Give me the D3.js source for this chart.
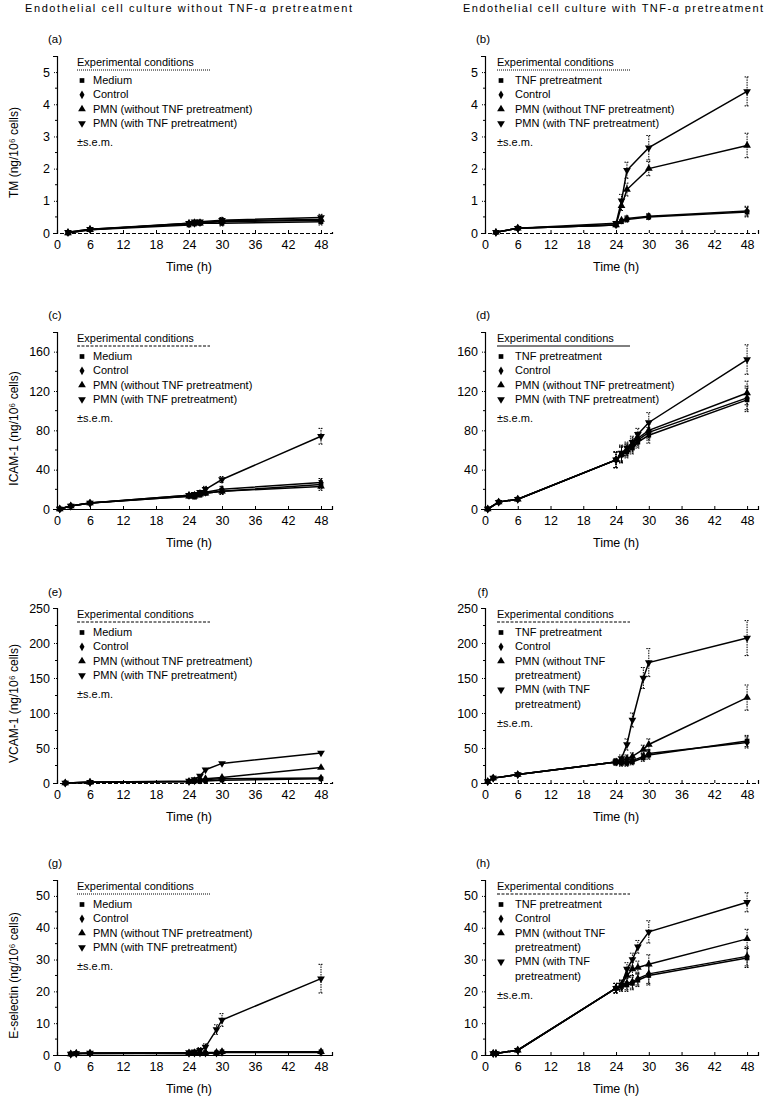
<!DOCTYPE html>
<html><head><meta charset="utf-8">
<script src="https://cdn.jsdelivr.net/npm/d3@7"></script>
<style>body{margin:0;background:#fff}svg{display:block}text{font-family:"Liberation Sans",Arial,sans-serif;fill:#000}</style>
</head><body><svg id="c" width="767" height="1097"></svg>
<script>
// ---------- data ----------
const headers = ["Endothelial cell culture without TNF-\u03b1 pretreatment", "Endothelial cell culture with TNF-\u03b1 pretreatment"];
const leftLegend = ["Medium", "Control", "PMN (without TNF pretreatment)", "PMN (with TNF pretreatment)"];
const rightLegend = ["TNF pretreatment", "Control", "PMN (without TNF pretreatment)", "PMN (with TNF pretreatment)"];
const rightLegendWrapped = ["TNF pretreatment", "Control", ["PMN (without TNF", "pretreatment)"], ["PMN (with TNF", "pretreatment)"]];
const timeTicks = [0, 6, 12, 18, 24, 30, 36, 42, 48];

// (a) TM without TNF
const aTime = [2, 6, 24, 25, 26, 30, 48];
const aMedium = [0.00, 0.10, 0.25, 0.28, 0.30, 0.30, 0.35];
const aControl = [0.02, 0.12, 0.28, 0.30, 0.32, 0.35, 0.40];
const aPmnWithout = [0.00, 0.10, 0.30, 0.32, 0.30, 0.38, 0.42];
const aPmnWith = [0.02, 0.12, 0.30, 0.35, 0.35, 0.40, 0.48];
const aSem = [0.02, 0.03, 0.06, 0.06, 0.06, 0.08, 0.10];
// (b) TM with TNF
const bTime = [2, 6, 24, 25, 26, 30, 48];
const bTnf = [0.02, 0.15, 0.25, 0.35, 0.42, 0.50, 0.65];
const bControl = [0.02, 0.15, 0.25, 0.40, 0.45, 0.52, 0.68];
const bPmnWithout = [0.02, 0.15, 0.25, 0.85, 1.35, 2.00, 2.72];
const bPmnWith = [0.02, 0.15, 0.30, 1.00, 1.95, 2.65, 4.40];
const bTnfSem = [0.02, 0.03, 0.04, 0.06, 0.08, 0.08, 0.15];
const bPmnWithoutSem = [0.02, 0.03, 0.05, 0.15, 0.20, 0.22, 0.38];
const bPmnWithSem = [0.02, 0.03, 0.05, 0.20, 0.25, 0.38, 0.45];
// (c) ICAM-1 without TNF
const cTime = [0.5, 2.5, 6, 24, 25, 26, 27, 30, 48];
const cMedium = [0, 3, 6, 13, 12, 14, 16, 18, 25];
const cControl = [0, 3, 6, 14, 14, 16, 17, 20, 27];
const cPmnWithout = [0, 3, 6, 13, 13, 15, 16, 18, 23];
const cPmnWith = [0, 3, 6, 14, 15, 17, 20, 30, 74];
const cSem = [0, 1, 1, 2, 2, 2, 2, 3, 4];
const cPmnWithSem = [0, 1, 1, 2, 2, 2, 3, 3, 8];
// (d) ICAM-1 with TNF
const dTime = [0.5, 2.5, 6, 24, 25, 26, 27, 28, 30, 48];
const dTnf = [0, 7, 10, 50, 55, 58, 62, 68, 75, 111];
const dControl = [0, 7, 10, 50, 55, 60, 64, 70, 78, 113];
const dPmnWithout = [0, 7, 10, 50, 56, 60, 66, 72, 80, 118];
const dPmnWith = [0, 7, 10, 50, 57, 62, 68, 76, 88, 152];
const dSem = [0, 1, 1, 8, 8, 6, 6, 6, 8, 12];
const dPmnWithSem = [0, 1, 1, 8, 8, 6, 6, 6, 10, 15];
// (e) VCAM-1 without TNF
const eTime = [1.5, 6, 24, 25, 26, 27, 30, 48];
const eMedium = [0, 1, 2, 3, 3, 3, 4, 6];
const eControl = [0, 1, 2, 3, 4, 5, 6, 7];
const ePmnWithout = [0, 1, 2, 3, 5, 6, 8, 22];
const ePmnWith = [0, 1, 3, 5, 10, 19, 28, 43];
const eSem = [0.5, 1, 1, 1, 2, 2, 2, 3];
// (f) VCAM-1 with TNF
const fTime = [0.5, 1.5, 6, 24, 25, 26, 27, 29, 30, 48];
const fTnf = [2, 7, 12, 30, 28, 28, 30, 36, 40, 60];
const fControl = [2, 7, 12, 30, 30, 30, 32, 38, 42, 58];
const fPmnWithout = [2, 7, 12, 30, 32, 35, 38, 48, 55, 122];
const fPmnWith = [2, 7, 12, 30, 35, 55, 90, 150, 172, 207];
const fTnfSem = [1, 2, 2, 4, 4, 4, 4, 5, 6, 8];
const fPmnWithoutSem = [1, 2, 2, 4, 4, 5, 5, 6, 8, 18];
const fPmnWithSem = [1, 2, 2, 4, 5, 8, 10, 15, 20, 25];
// (g) E-selectin without TNF
const gTime = [2.5, 3.5, 6, 24, 25, 26, 27, 29, 30, 48];
const gMedium = [0.3, 0.5, 0.5, 0.5, 0.5, 0.5, 0.5, 0.7, 1.0, 1.0];
const gControl = [0.3, 0.5, 0.6, 0.5, 0.6, 0.6, 0.6, 0.6, 0.8, 0.8];
const gPmnWithout = [0.3, 0.5, 0.5, 0.6, 0.7, 0.8, 0.8, 0.8, 1.0, 1.0];
const gPmnWith = [0.3, 0.5, 0.6, 0.8, 1.0, 1.5, 2.5, 8.0, 11.0, 24.0];
const gSem = [0.1, 0.1, 0.1, 0.2, 0.2, 0.2, 0.2, 0.3, 0.4, 0.4];
const gPmnWithSem = [0.2, 0.2, 0.2, 0.3, 0.5, 0.8, 1.0, 1.5, 2.0, 4.5];
// (h) E-selectin with TNF
const hTime = [1.5, 2, 6, 24, 25, 26, 27, 28, 30, 48];
const hTnf = [0.5, 0.5, 1.5, 21, 21.5, 22, 22.5, 23.5, 25, 30.5];
const hControl = [0.5, 0.5, 1.5, 21, 22, 22.5, 23, 24, 25.5, 31];
const hPmnWithout = [0.5, 0.5, 1.5, 21, 22, 25, 27, 27.5, 28.5, 36.5];
const hPmnWith = [0.5, 0.5, 1.5, 21, 22, 27, 30, 34, 38.7, 48];
const hSem = [0.3, 0.3, 0.5, 1.5, 1.5, 2, 2, 2, 3, 3];
const hPmnWithSem = [0.3, 0.3, 0.5, 1.5, 1.5, 2, 2, 2, 3.5, 3];

// ---------- panels ----------
const panels = [
  {id:"(a)", col:0, row:0, time:aTime, series:[aMedium,aControl,aPmnWithout,aPmnWith], sem:[aSem,aSem,aSem,aSem],
   yMax:5.5, major:[0,1,2,3,4,5], minor:d3.range(0.5,5.5,1), ylabel:"TM (ng/10\u2076 cells)", legend:leftLegend, dashedX:true, underline:"1,1"},
  {id:"(b)", col:1, row:0, time:bTime, series:[bTnf,bControl,bPmnWithout,bPmnWith], sem:[bTnfSem,bTnfSem,bPmnWithoutSem,bPmnWithSem],
   yMax:5.5, major:[0,1,2,3,4,5], minor:d3.range(0.5,5.5,1), ylabel:null, legend:rightLegend, dashedX:true, underline:"1,1"},
  {id:"(c)", col:0, row:1, time:cTime, series:[cMedium,cControl,cPmnWithout,cPmnWith], sem:[cSem,cSem,cSem,cPmnWithSem],
   yMax:180, major:[0,40,80,120,160], minor:[20,60,100,140], ylabel:"ICAM-1 (ng/10\u2076 cells)", legend:leftLegend, dashedX:false, underline:"3,1.5"},
  {id:"(d)", col:1, row:1, time:dTime, series:[dTnf,dControl,dPmnWithout,dPmnWith], sem:[dSem,dSem,dSem,dPmnWithSem],
   yMax:180, major:[0,40,80,120,160], minor:[20,60,100,140], ylabel:null, legend:rightLegend, dashedX:false, underline:null},
  {id:"(e)", col:0, row:2, time:eTime, series:[eMedium,eControl,ePmnWithout,ePmnWith], sem:[eSem,eSem,eSem,eSem],
   yMax:250, major:[0,50,100,150,200,250], minor:[25,75,125,175,225], ylabel:"VCAM-1 (ng/10\u2076 cells)", legend:leftLegend, dashedX:true, underline:"3,1.5"},
  {id:"(f)", col:1, row:2, time:fTime, series:[fTnf,fControl,fPmnWithout,fPmnWith], sem:[fTnfSem,fTnfSem,fPmnWithoutSem,fPmnWithSem],
   yMax:250, major:[0,50,100,150,200,250], minor:[25,75,125,175,225], ylabel:null, legend:rightLegendWrapped, dashedX:true, underline:"3,1.5"},
  {id:"(g)", col:0, row:3, time:gTime, series:[gMedium,gControl,gPmnWithout,gPmnWith], sem:[gSem,gSem,gSem,gPmnWithSem],
   yMax:55, major:[0,10,20,30,40,50], minor:[5,15,25,35,45], ylabel:"E-selectin (ng/10\u2076 cells)", legend:leftLegend, dashedX:false, underline:"1,1"},
  {id:"(h)", col:1, row:3, time:hTime, series:[hTnf,hControl,hPmnWithout,hPmnWith], sem:[hSem,hSem,hSem,hPmnWithSem],
   yMax:55, major:[0,10,20,30,40,50], minor:[5,15,25,35,45], ylabel:null, legend:rightLegendWrapped, dashedX:false, underline:"3,1.5"}
];

// layout geometry
const colX = [{x0:57, x1:332}, {x0:485, x1:758}];
const rowY = [{y0:233, y1:56, lab:39}, {y0:509, y1:332, lab:315}, {y0:783, y1:608, lab:592}, {y0:1055, y1:880, lab:863}];
const legendX = [{title:77, marker:82, text:93}, {title:497, marker:501, text:515}];

const svg = d3.select("#c");
svg.append("rect").attr("width",767).attr("height",1097).attr("fill","#fff");

// headers
svg.append("text").attr("x",25).attr("y",12).attr("font-size",11).attr("textLength",327).attr("lengthAdjust","spacing").text(headers[0]);
svg.append("text").attr("x",463).attr("y",12).attr("font-size",11).attr("textLength",300).attr("lengthAdjust","spacing").text(headers[1]);

const symbols = [d3.symbolSquare, d3.symbolDiamond, d3.symbolTriangle, d3.symbolTriangle];
const symRot = [0, 0, 0, 180];
const symSize = [22, 22, 26, 26];

panels.forEach(p => {
  const cx = colX[p.col], ry = rowY[p.row];
  const x = d3.scaleLinear().domain([0, 50]).range([cx.x0, cx.x1]);
  const y = d3.scaleLinear().domain([0, p.yMax]).range([ry.y0, ry.y1]);
  const g = svg.append("g");

  // panel id
  g.append("text").attr("x", cx.x0 - 2).attr("y", ry.lab + 4).attr("font-size", 11.5).attr("text-anchor","middle").text(p.id);

  // y axis
  const ya = g.append("g").attr("transform", `translate(${cx.x0},0)`)
    .call(d3.axisLeft(y).tickValues(p.major).tickSize(4).tickPadding(3).tickFormat(d3.format("~g")));
  ya.selectAll("text").attr("font-size", 12.5).style("font-family", '"Liberation Sans",Arial,sans-serif');
  ya.select(".domain").attr("stroke","#000").attr("stroke-width",1.2);
  ya.selectAll(".tick line").attr("stroke-dasharray","1,1");
  g.selectAll(".minor").data(p.minor).join("line")
    .attr("x1", cx.x0 - 2).attr("x2", cx.x0).attr("y1", d => y(d)).attr("y2", d => y(d))
    .attr("stroke", "#000").attr("stroke-width", 1);

  // x axis
  const xa = g.append("g").attr("transform", `translate(0,${ry.y0})`)
    .call(d3.axisBottom(x).tickValues(timeTicks).tickSize(-3).tickPadding(7).tickFormat(d3.format("d")));
  xa.selectAll("text").attr("font-size", 12.5).style("font-family", '"Liberation Sans",Arial,sans-serif');
  xa.select(".domain").attr("stroke","#000").attr("stroke-width",1.2)
    .attr("stroke-dasharray", p.dashedX ? "4,2" : null);

  // axis labels
  g.append("text").attr("x", (x(0) + x(48)) / 2).attr("y", ry.y0 + 38).attr("font-size", 12.5)
    .attr("text-anchor", "middle").text("Time (h)");
  if (p.ylabel) {
    g.append("text").attr("transform", `translate(18,${(ry.y0 + ry.y1) / 2 + 8}) rotate(-90)`)
      .attr("font-size", 12).attr("text-anchor", "middle").text(p.ylabel);
  }

  // series
  const line = d3.line().x(d => x(d.t)).y(d => y(d.v));
  p.series.forEach((vals, si) => {
    const pts = p.time.map((t, i) => ({t, v: vals[i], e: p.sem[si][i]}));
    g.append("path").datum(pts).attr("d", line).attr("fill", "none")
      .attr("stroke", "#000").attr("stroke-width", 1.5);
    // error bars
    const eb = g.append("g").attr("stroke", "#000").attr("stroke-width", 1).attr("stroke-dasharray", "1.5,1");
    pts.filter(d => d.e > 0 && (y(d.v - d.e) - y(d.v + d.e)) > 5).forEach(d => {
      const xx = x(d.t);
      eb.append("line").attr("x1", xx).attr("x2", xx).attr("y1", y(Math.max(0, d.v - d.e))).attr("y2", y(d.v + d.e));
      eb.append("line").attr("x1", xx - 2.5).attr("x2", xx + 2.5).attr("y1", y(d.v + d.e)).attr("y2", y(d.v + d.e));
      if (d.v - d.e > 0) eb.append("line").attr("x1", xx - 2.5).attr("x2", xx + 2.5).attr("y1", y(d.v - d.e)).attr("y2", y(d.v - d.e));
    });
    g.selectAll(null).data(pts).join("path")
      .attr("d", d3.symbol().type(symbols[si]).size(symSize[si]))
      .attr("transform", d => `translate(${x(d.t)},${y(d.v)}) rotate(${symRot[si]})`)
      .attr("fill", "#000");
  });

  // legend
  const lx = legendX[p.col];
  const ty = ry.y1 + 6;
  g.append("text").attr("x", lx.title).attr("y", ty + 4).attr("font-size", 11).text("Experimental conditions");
  g.append("line").attr("x1", lx.title).attr("x2", lx.title + 133).attr("y1", ty + 8).attr("y2", ty + 8)
    .attr("stroke", "#000").attr("stroke-width", 1).attr("stroke-dasharray", p.underline);
  let yy = ty + 22;
  const step = 14.3;
  p.legend.forEach((lab, si) => {
    g.append("path").attr("d", d3.symbol().type(symbols[si]).size(symSize[si]))
      .attr("transform", `translate(${lx.marker},${yy - 3.5}) rotate(${symRot[si]})`).attr("fill", "#000");
    const lines = Array.isArray(lab) ? lab : [lab];
    lines.forEach((ln, k) => {
      g.append("text").attr("x", lx.text).attr("y", yy + k * step).attr("font-size", 11).text(ln);
    });
    yy += step * lines.length;
  });
  g.append("text").attr("x", lx.title).attr("y", yy + 5).attr("font-size", 11).text("\u00b1s.e.m.");
});
</script></body></html>
